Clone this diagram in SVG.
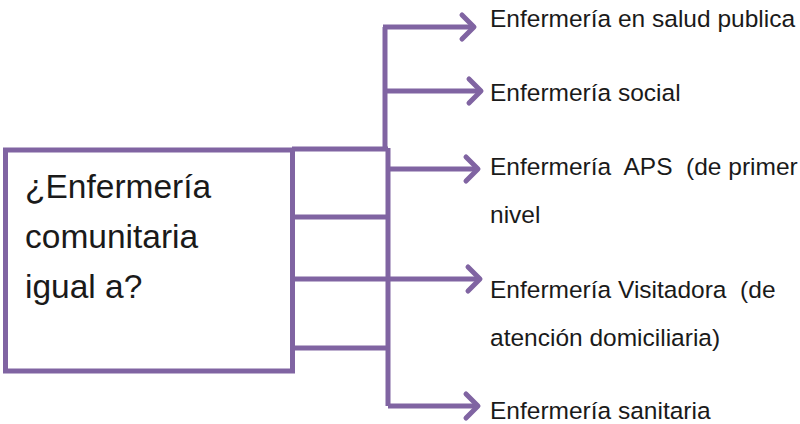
<svg xmlns="http://www.w3.org/2000/svg" width="800" height="424" viewBox="0 0 800 424">
  <style>
    .ln { stroke: #8064A2; stroke-width: 5; fill: none; }
    .lbl { font-family: "Liberation Sans", Arial, sans-serif; font-size: 24.5px; fill: #1a1a1a; }
    .main { font-family: "Liberation Sans", Arial, sans-serif; font-size: 33.5px; fill: #1a1a1a; }
  </style>
  <defs>
    <marker id="chev" markerUnits="userSpaceOnUse" viewBox="-16 -16 20 32" refX="0" refY="0" markerWidth="20" markerHeight="32" orient="auto" overflow="visible">
      <path d="M-12,-12 L0,0 L-12,12" fill="none" stroke="#8064A2" stroke-width="5" stroke-linejoin="round" stroke-linecap="round"/>
    </marker>
  </defs>
  <rect width="800" height="424" fill="#ffffff"/>

  <g id="connectors">
    <path class="ln" d="M292,149 H388"/>
    <path class="ln" d="M292,217 H388"/>
    <path class="ln" d="M292,348 H388"/>
    <path class="ln" d="M385,27 V151"/>
    <path class="ln" d="M388,148 V406"/>
    <path class="ln" d="M383,27 H474" marker-end="url(#chev)"/>
    <path class="ln" d="M385,91 H481" marker-end="url(#chev)"/>
    <path class="ln" d="M388,169 H478" marker-end="url(#chev)"/>
    <path class="ln" d="M292,279 H480" marker-end="url(#chev)"/>
    <path class="ln" d="M388,406 H478" marker-end="url(#chev)"/>
  </g>

  <g id="node-main">
    <rect class="ln" x="5.5" y="150" width="287" height="221"/>
    <text class="main" x="25" y="198">¿Enfermería</text>
    <text class="main" x="25" y="248">comunitaria</text>
    <text class="main" x="25" y="298">igual a?</text>
  </g>

  <g id="node-salud-publica">
    <text class="lbl" x="490" y="27">Enfermería en salud publica</text>
  </g>
  <g id="node-social">
    <text class="lbl" x="490" y="101">Enfermería social</text>
  </g>
  <g id="node-aps">
    <text class="lbl" x="490" y="175" xml:space="preserve">Enfermería  APS  (de primer</text>
    <text class="lbl" x="490" y="223">nivel</text>
  </g>
  <g id="node-visitadora">
    <text class="lbl" x="490" y="298" xml:space="preserve">Enfermería Visitadora  (de</text>
    <text class="lbl" x="490" y="346">atención domiciliaria)</text>
  </g>
  <g id="node-sanitaria">
    <text class="lbl" x="490" y="419">Enfermería sanitaria</text>
  </g>
</svg>
